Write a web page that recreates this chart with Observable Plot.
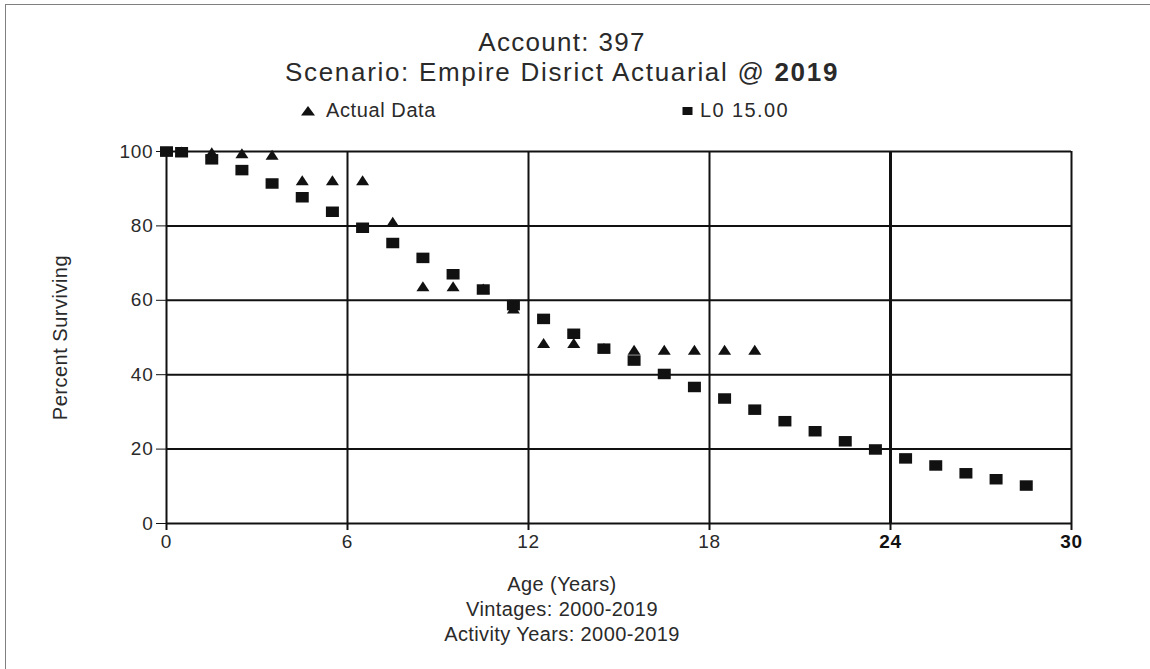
<!DOCTYPE html>
<html>
<head>
<meta charset="utf-8">
<script src="https://cdn.jsdelivr.net/npm/d3@7"></script>
<script src="https://cdn.jsdelivr.net/npm/@observablehq/plot@0.6"></script>
<style>
  html, body { margin: 0; padding: 0; background: #fff; }
  #wrap { position: relative; width: 1150px; height: 669px; overflow: hidden; font-family: "Liberation Sans", Arial, sans-serif; color: #2a2a2a; }
  #border { position: absolute; left: 5px; top: 4px; right: -10px; bottom: -10px; border-left: 1.5px solid #808080; border-top: 1.5px solid #808080; }
  .line { position: absolute; left: 0; width: 1124px; text-align: center; white-space: nowrap; }
  .leg { position: absolute; font-size: 20px; line-height: 23px; letter-spacing: 0.6px; white-space: nowrap; display: flex; align-items: center; }
  .leg svg { margin-right: 11px; }
  #chart { position: absolute; left: 0; top: 130px; }
</style>
</head>
<body>
<div id="wrap">
  <div id="border"></div>
  <div class="line" id="t1" style="top:27px;font-size:26px;line-height:30px;letter-spacing:1.3px;"></div>
  <div class="line" id="t2" style="top:57px;font-size:26px;line-height:30px;letter-spacing:1.7px;"></div>
  <div class="leg" id="leg1" style="left:301px;top:99px;"></div>
  <div class="leg" id="leg2" style="left:682px;top:99px;letter-spacing:1.4px;"></div>
  <div id="chart"></div>
  <div class="line" id="c1" style="top:573px;font-size:20px;line-height:23px;letter-spacing:0.4px;"></div>
  <div class="line" id="c2" style="top:598px;font-size:20px;line-height:23px;letter-spacing:0.4px;"></div>
  <div class="line" id="c3" style="top:623px;font-size:20px;line-height:23px;letter-spacing:0.4px;"></div>
</div>
<script>
// ---- data ----
const titleText = "Account: 397";
const subtitleText = "Scenario: Empire Disrict Actuarial @ ";
const subtitleYear = "2019";
const seriesNames = ["Actual Data", "L0 15.00"];
const xTitle = "Age (Years)";
const captionLines = ["Vintages: 2000-2019", "Activity Years: 2000-2019"];
const yTitle = "Percent Surviving";

const actualAges = [0, 0.5, 1.5, 2.5, 3.5, 4.5, 5.5, 6.5, 7.5, 8.5, 9.5, 10.5, 11.5, 12.5, 13.5, 14.5, 15.5, 16.5, 17.5, 18.5, 19.5];
const actualValues = [100, 100, 99.8, 99.5, 99.1, 92.3, 92.3, 92.3, 81.1, 63.8, 63.8, 63.2, 57.8, 48.5, 48.5, 47.2, 46.7, 46.7, 46.7, 46.7, 46.7];

const curveAges = [0, 0.5, 1.5, 2.5, 3.5, 4.5, 5.5, 6.5, 7.5, 8.5, 9.5, 10.5, 11.5, 12.5, 13.5, 14.5, 15.5, 16.5, 17.5, 18.5, 19.5, 20.5, 21.5, 22.5, 23.5, 24.5, 25.5, 26.5, 27.5, 28.5];
const curveValues = [100, 99.8, 97.9, 95.0, 91.4, 87.7, 83.8, 79.5, 75.4, 71.4, 67.0, 62.9, 58.7, 55.0, 51.0, 47.0, 43.8, 40.2, 36.7, 33.6, 30.6, 27.5, 24.8, 22.1, 19.9, 17.5, 15.6, 13.5, 11.9, 10.2];

const xTicksNormal = [0, 6, 12, 18];
const xTicksBold = [24, 30];
const yTicks = [0, 20, 40, 60, 80, 100];

// ---- tables ----
const actual = actualAges.map((a, i) => ({age: a, pct: actualValues[i]}));
const curve = curveAges.map((a, i) => ({age: a, pct: curveValues[i]}));

// custom symbols
const rectSymbol = {draw(ctx) { ctx.moveTo(-6.5, -5.25); ctx.lineTo(6.5, -5.25); ctx.lineTo(6.5, 5.25); ctx.lineTo(-6.5, 5.25); ctx.closePath(); }};
const triSymbol = {draw(ctx) { ctx.moveTo(0, -5); ctx.lineTo(6.5, 5); ctx.lineTo(-6.5, 5); ctx.closePath(); }};

// header
document.getElementById("t1").textContent = titleText;
const t2 = document.getElementById("t2");
t2.append(document.createTextNode(subtitleText));
const b = document.createElement("b"); b.textContent = subtitleYear; t2.append(b);
document.getElementById("leg1").innerHTML = '<svg width="14" height="10"><path d="M7,0L14,9.5L0,9.5Z" fill="#111"/></svg><span></span>';
document.getElementById("leg2").innerHTML = '<svg width="11" height="10"><rect x="0.5" y="1" width="10" height="8" fill="#111"/></svg><span></span>';
document.querySelector("#leg1 span").textContent = seriesNames[0];
document.querySelector("#leg2 span").textContent = seriesNames[1];
document.querySelector("#leg2 svg").style.marginRight = "7px";
document.getElementById("c1").textContent = xTitle;
document.getElementById("c2").textContent = captionLines[0];
document.getElementById("c3").textContent = captionLines[1];

const chart = Plot.plot({
  width: 1150,
  height: 440,
  marginTop: 21,
  marginBottom: 47,
  marginLeft: 166,
  marginRight: 79,
  style: {fontFamily: "Liberation Sans, Arial, sans-serif", fontSize: "19px", color: "#2a2a2a", background: "transparent"},
  x: {domain: [0, 30]},
  y: {domain: [0, 100]},
  marks: [
    Plot.ruleY(yTicks, {stroke: "#111", strokeWidth: 2}),
    Plot.ruleX(xTicksNormal.concat(xTicksBold), {stroke: "#111", strokeWidth: d => d === 24 ? 3 : 2}),
    Plot.axisY({ticks: yTicks, tickSize: 10, tickPadding: 3, stroke: "#111", strokeWidth: 1, label: yTitle, labelAnchor: "center", labelArrow: "none", labelOffset: 114, fontSize: 19, fill: "#2a2a2a"}),
    Plot.axisX({ticks: xTicksNormal, tickSize: 7, tickPadding: 4, stroke: "#111", strokeWidth: 2, label: null, fontSize: 19, fill: "#2a2a2a"}),
    Plot.axisX({ticks: xTicksBold, tickSize: 7, tickPadding: 4, stroke: "#111", strokeWidth: 2, label: null, fontSize: 19, fontWeight: "bold", fill: "#111"}),
    Plot.dot(actual, {x: "age", y: "pct", symbol: triSymbol, fill: "#111", stroke: "none", r: 5}),
    Plot.dot(curve, {x: "age", y: "pct", symbol: rectSymbol, fill: "#111", stroke: "none", r: 5})
  ]
});
document.getElementById("chart").append(chart);
chart.querySelectorAll("g[aria-label='y-axis tick label'] text, g[aria-label='x-axis tick label'] text").forEach(t => t.setAttribute("letter-spacing", "0.8"));
chart.querySelectorAll("g[aria-label='y-axis label'] text").forEach(t => { t.setAttribute("font-size", 20); t.setAttribute("letter-spacing", "0.5"); });
</script>
</body>
</html>
